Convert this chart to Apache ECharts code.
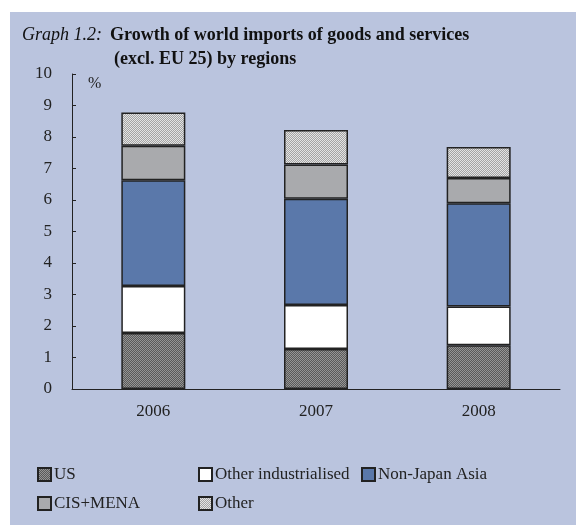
<!DOCTYPE html>
<html>
<head>
<meta charset="utf-8">
<script src="https://cdn.jsdelivr.net/npm/echarts@6/dist/echarts.min.js"></script>
<style>
  html, body { margin: 0; padding: 0; background: #fff; }
  #chart { width: 576px; height: 525px; }
</style>
</head>
<body>
<div id="chart"></div>
<script>
const years = ['2006', '2007', '2008'];
const us = [1.78, 1.27, 1.39];
const otherInd = [1.49, 1.40, 1.23];
const nonJapanAsia = [3.36, 3.37, 3.28];
const cisMena = [1.09, 1.09, 0.80];
const other = [1.06, 1.09, 0.98];

// small speckled fills for the two hatched series
function speckle(a, b) {
  const c = document.createElement('canvas');
  c.width = 4; c.height = 4;
  const ctx = c.getContext('2d');
  for (let y = 0; y < 4; y++) {
    for (let x = 0; x < 4; x++) {
      ctx.fillStyle = (x + y) % 2 ? a : b;
      ctx.fillRect(x, y, 1, 1);
    }
  }
  return {image: c, repeat: 'repeat'};
}

const serif = '"Liberation Serif", "DejaVu Serif", serif';
const border = {borderColor: '#222', borderWidth: 1.5};

function bar(name, data, color) {
  return {
    name: name,
    type: 'bar',
    stack: 'total',
    barWidth: 64,
    data: data,
    itemStyle: Object.assign({color: color}, border),
    emphasis: {disabled: true}
  };
}

function legendCol(left, names) {
  return {
    left: left, top: 466, orient: 'vertical', itemGap: 12, padding: 0,
    itemWidth: 13, itemHeight: 13, icon: 'rect',
    textStyle: {fontSize: 17, color: '#222', fontFamily: serif, padding: [0, 0, 0, -2]},
    data: names
  };
}

const chart = echarts.init(document.getElementById('chart'));
chart.setOption({
  backgroundColor: '#fff',
  animation: false,
  textStyle: {fontFamily: serif},
  graphic: [
    {type: 'rect', z: -10, silent: true, shape: {x: 10, y: 12, width: 566, height: 513}, style: {fill: '#BAC4DE'}},
    {type: 'text', left: 22, top: 26, style: {text: 'Graph 1.2:', font: 'italic 18px ' + serif, fill: '#111'}},
    {type: 'text', left: 110, top: 26, style: {text: 'Growth of world imports of goods and services', font: 'bold 18px ' + serif, fill: '#111'}},
    {type: 'text', left: 114, top: 50, style: {text: '(excl. EU 25) by regions', font: 'bold 18px ' + serif, fill: '#111'}},
    {type: 'text', left: 88, top: 76, style: {text: '%', font: '16px ' + serif, fill: '#222'}}
  ],
  legend: [
    legendCol(37, ['US', 'CIS+MENA']),
    legendCol(198, ['Other industrialised', 'Other']),
    legendCol(361, ['Non-Japan Asia'])
  ],
  grid: {left: 72, right: 16, top: 74, bottom: 136},
  xAxis: {
    type: 'category',
    data: years,
    axisLine: {lineStyle: {color: '#222', width: 1}},
    axisTick: {inside: true, length: 5, lineStyle: {color: '#222'}},
    axisLabel: {color: '#222', fontSize: 17, margin: 14, fontFamily: serif}
  },
  yAxis: {
    type: 'value',
    min: 0, max: 10, interval: 1,
    splitLine: {show: false},
    axisLine: {show: true, lineStyle: {color: '#222', width: 1}},
    axisTick: {show: true, inside: true, length: 4, lineStyle: {color: '#222'}},
    axisLabel: {color: '#222', fontSize: 17, margin: 20, fontFamily: serif}
  },
  series: [
    bar('US', us, speckle('#5a5a5a', '#959595')),
    bar('Other industrialised', otherInd, '#ffffff'),
    bar('Non-Japan Asia', nonJapanAsia, '#5A78AA'),
    bar('CIS+MENA', cisMena, '#A9AAAD'),
    bar('Other', other, speckle('#a4a4a4', '#e4e4e4'))
  ]
});
</script>
</body>
</html>
